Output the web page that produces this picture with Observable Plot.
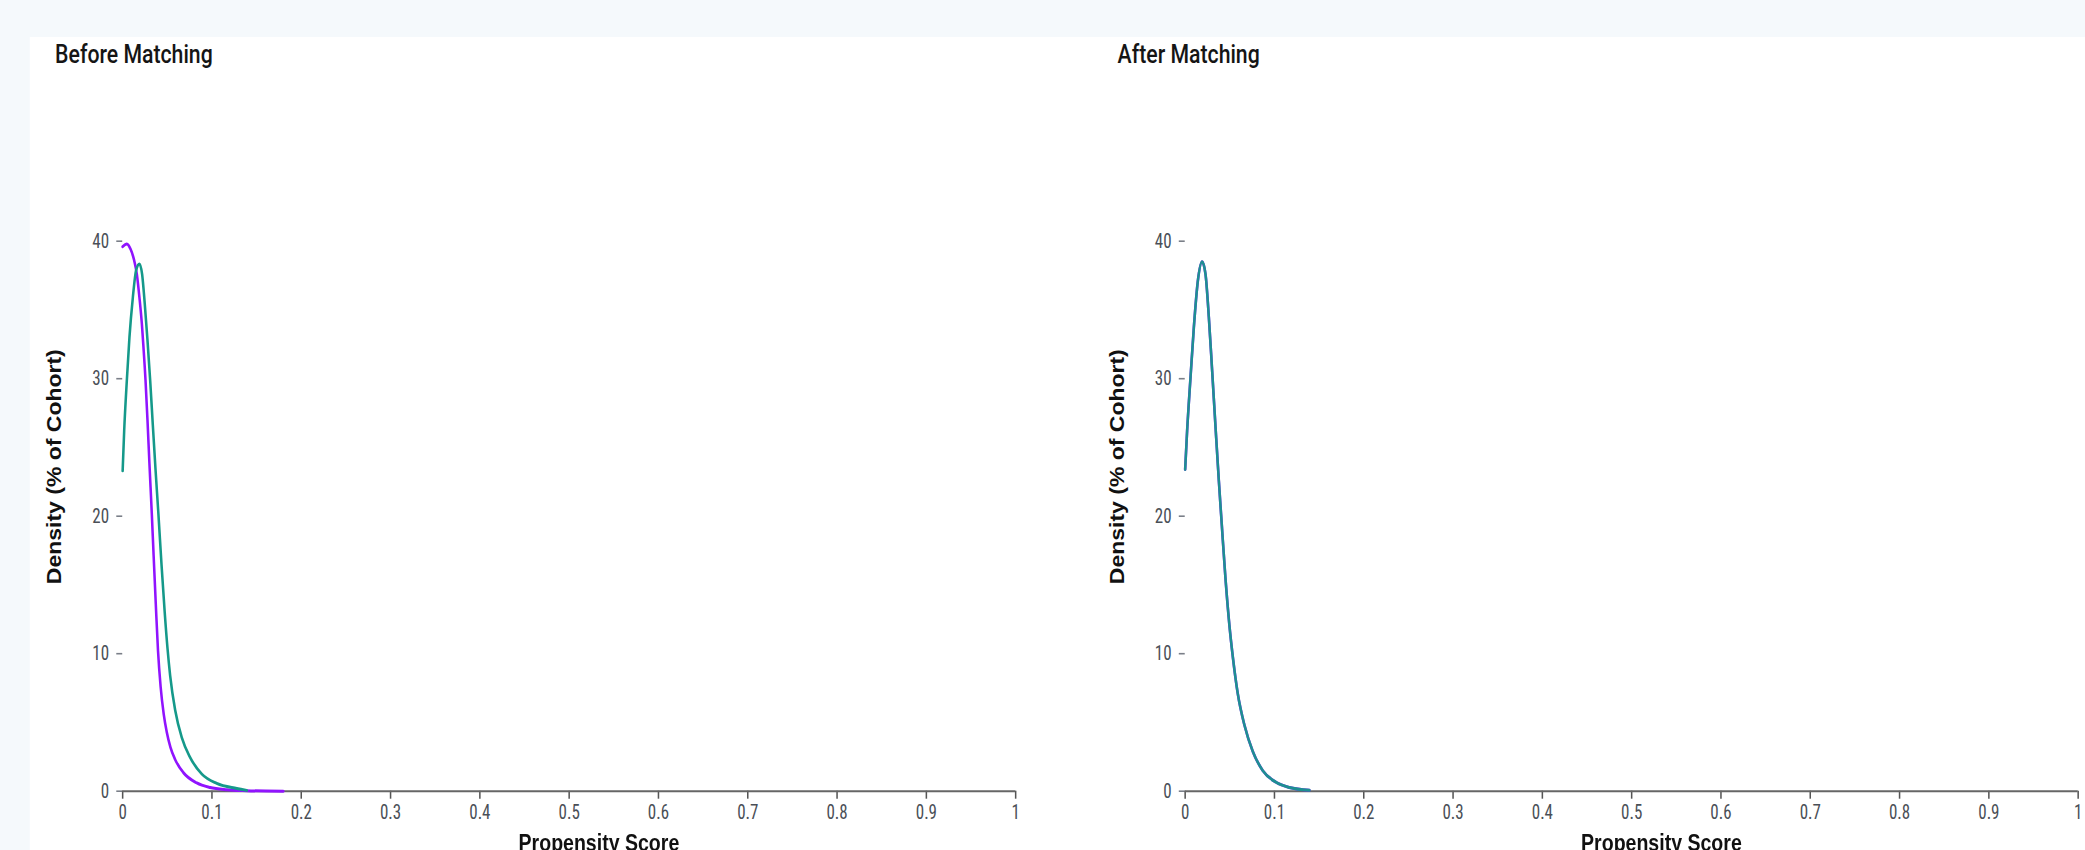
<!DOCTYPE html>
<html><head><meta charset="utf-8">
<script src="https://cdn.jsdelivr.net/npm/d3@7"></script>
<script src="https://cdn.jsdelivr.net/npm/@observablehq/plot@0.6"></script>
<style>
html,body{margin:0;padding:0;background:#f5f9fc;overflow:hidden;width:2085px;height:850px;}
#wrap{position:absolute;left:0;top:0;width:2453px;height:850px;transform:scaleX(0.85);transform-origin:0 0;}
#white{position:absolute;left:35.3px;top:37px;right:0;bottom:0;background:#fff;}
.panel{position:absolute;top:37px;width:1250px;}
.title{font-family:Roboto,sans-serif;font-weight:500;font-size:25px;line-height:25px;margin:5px 0 0 29.5px;color:#151515;}
</style></head>
<body>
<div id="wrap">
  <div id="white"></div>
  <div class="panel" id="p1" style="left:35.3px"></div>
  <div class="panel" id="p2" style="left:1285.3px"></div>
</div>
<script>
// ---- data ----
const panelTitles = ["Before Matching", "After Matching"];
const seriesNames = ["Control", "Treated"];
const seriesColors = ["#9013fe", "#15998a"];
const xTicks = [0, 0.1, 0.2, 0.3, 0.4, 0.5, 0.6, 0.7, 0.8, 0.9, 1];
const yTicks = [0, 10, 20, 30, 40];
const xLabel = "Propensity Score";
const yLabel = "Density (% of Cohort)";

// Before matching – purple series
const beforeControlX = [0, 0.0047, 0.009, 0.0129, 0.0159, 0.0188, 0.0215, 0.0233, 0.0256, 0.0278, 0.030, 0.0327, 0.0345, 0.0371, 0.0396, 0.0425, 0.046, 0.0494, 0.0535, 0.0588, 0.068, 0.083, 0.098, 0.1166, 0.139, 0.16, 0.18];
const beforeControlY = [39.6, 39.8, 39.4, 38.6, 37.6, 35.9, 34.0, 32.3, 29.9, 27.0, 23.8, 20.1, 17.4, 13.6, 10.2, 7.6, 5.6, 4.3, 3.2, 2.3, 1.35, 0.6, 0.27, 0.11, 0.04, 0.01, 0];
// Before matching – teal series
const beforeTreatedX = [0, 0.0017, 0.0047, 0.0076, 0.0114, 0.0151, 0.0188, 0.0218, 0.0248, 0.0278, 0.0308, 0.0338, 0.0368, 0.040, 0.0435, 0.047, 0.0502, 0.0532, 0.0588, 0.0662, 0.0756, 0.0886, 0.1054, 0.1278, 0.139];
const beforeTreatedY = [23.3, 26.2, 29.9, 33.0, 35.9, 37.9, 38.35, 37.6, 35.4, 32.8, 29.9, 26.6, 23.4, 20.2, 16.5, 13.1, 10.4, 8.4, 5.9, 3.9, 2.45, 1.25, 0.57, 0.2, 0.06];
// After matching – both series overlap
const afterControlX = [0, 0.0022, 0.006, 0.0097, 0.0142, 0.019, 0.0228, 0.0265, 0.0302, 0.034, 0.0377, 0.041, 0.045, 0.0495, 0.0537, 0.0589, 0.0664, 0.0757, 0.0869, 0.1018, 0.1167, 0.1392];
const afterControlY = [23.4, 26.2, 30.1, 33.7, 37.1, 38.5, 37.6, 34.5, 30.6, 26.5, 22.6, 19.4, 15.6, 12.1, 9.6, 7.1, 4.8, 2.9, 1.5, 0.65, 0.27, 0.07];
const afterTreatedX = [0, 0.0022, 0.006, 0.0097, 0.0142, 0.019, 0.0228, 0.0265, 0.0302, 0.034, 0.0377, 0.041, 0.045, 0.0495, 0.0537, 0.0589, 0.0664, 0.0757, 0.0869, 0.1018, 0.1167, 0.1392];
const afterTreatedY = [23.4, 26.2, 30.1, 33.7, 37.1, 38.5, 37.6, 34.5, 30.6, 26.5, 22.6, 19.4, 15.6, 12.1, 9.6, 7.1, 4.8, 2.9, 1.5, 0.65, 0.27, 0.07];

const yMax = 47.2;

function rows(xs, ys, s) { return xs.map((x, i) => ({x, y: ys[i], s})); }

const panels = [
  [rows(beforeControlX, beforeControlY, seriesNames[0]), rows(beforeTreatedX, beforeTreatedY, seriesNames[1])],
  [rows(afterControlX, afterControlY, seriesNames[0]), rows(afterTreatedX, afterTreatedY, seriesNames[1])]
];

const narrow = "'Liberation Sans Narrow','Arial Narrow','Roboto Condensed','Liberation Sans',sans-serif";
const labelFont = "'Liberation Sans',Arial,sans-serif";

panels.forEach((series, i) => {
  const host = document.getElementById(i === 0 ? "p1" : "p2");
  const t = document.createElement("div");
  t.className = "title";
  t.textContent = panelTitles[i];
  host.appendChild(t);
  const chart = Plot.plot({
    width: 1250,
    height: 803,
    marginLeft: 108.8,
    marginRight: 90.6,
    marginTop: 74.7,
    marginBottom: 79.3,
    style: {background: "transparent", fontFamily: narrow, fontSize: "20px", color: "#4a4f57", overflow: "visible"},
    x: {domain: [0, 1]},
    y: {domain: [0, yMax]},
    marks: [
      Plot.axisY({ticks: yTicks, tickSize: 7, tickPadding: 9, label: null, stroke: "#7a7f88", strokeWidth: 1.6, fill: "#4a4f57", fontFamily: narrow, fontSize: 20}),
      Plot.axisX({ticks: xTicks, tickSize: 8, tickPadding: 6, label: null, stroke: "#555", strokeWidth: 1.8, fill: "#4a4f57", tickFormat: d3.format("~g"), fontFamily: narrow, fontSize: 20}),
      Plot.ruleY([0], {stroke: "#666", strokeWidth: 2}),
      Plot.line(series[0], {x: "x", y: "y", stroke: seriesColors[0], strokeWidth: 3, curve: "monotone-x"}),
      Plot.line(series[1], {x: "x", y: "y", stroke: seriesColors[1], strokeWidth: 3, strokeOpacity: i === 1 ? 0.93 : 1, curve: "monotone-x"}),
      Plot.text([yLabel], {frameAnchor: "left", textAnchor: "middle", lineAnchor: "middle", dx: -79.4, rotate: -90, fontFamily: labelFont, fontWeight: "bold", fontSize: 23, fill: "#111"}),
      Plot.text([xLabel], {frameAnchor: "bottom", textAnchor: "middle", lineAnchor: "middle", dx: 35, dy: 52, fontFamily: labelFont, fontWeight: "bold", fontSize: 23, fill: "#111"})
    ]
  });
  chart.style.display = "block";
  host.appendChild(chart);
});
</script>
</body></html>
